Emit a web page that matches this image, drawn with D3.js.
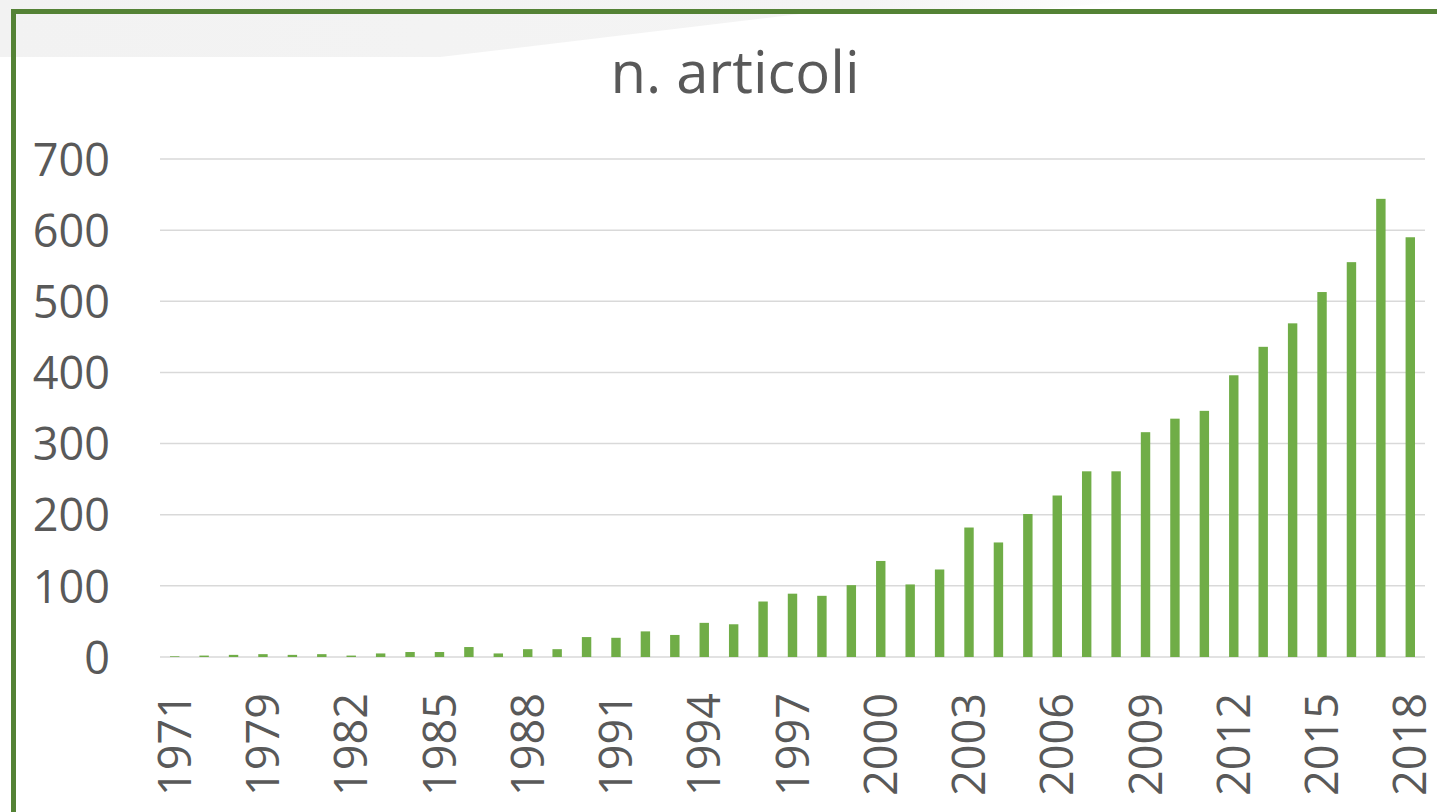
<!DOCTYPE html>
<html>
<head>
<meta charset="utf-8">
<script src="https://cdn.jsdelivr.net/npm/d3@7"></script>
<style>
  html, body { margin: 0; padding: 0; background: #ffffff; }
  svg { display: block; }
</style>
</head>
<body>
<svg id="chart" width="1437" height="812"></svg>
<script>
const title = "n. articoli";
const years = ["1971", "1977", "1978",
  "1979", "1980", "1981", "1982", "1983", "1984", "1985", "1986", "1987", "1988", "1989",
  "1990", "1991", "1992", "1993", "1994", "1995", "1996", "1997", "1998", "1999",
  "2000", "2001", "2002", "2003", "2004", "2005", "2006", "2007", "2008", "2009",
  "2010", "2011", "2012", "2013", "2014", "2015", "2016", "2017", "2018"];
const articles = [1, 2, 3,
  4, 3, 4, 2, 5, 7, 7, 14, 5, 11, 11,
  28, 27, 36, 31, 48, 46, 78, 89, 86, 101,
  135, 102, 123, 182, 161, 201, 227, 261, 261, 316,
  335, 346, 396, 436, 469, 513, 555, 644, 590];
const yTicks = [0, 100, 200, 300, 400, 500, 600, 700];
const xLabelEvery = 3;

const svg = d3.select("#chart");
const font = "'Open Sans', 'Liberation Sans', sans-serif";
const textColor = "#595959";

// background decoration (grey band at top-left)
const defs = svg.append("defs");
const grad = defs.append("linearGradient").attr("id", "fade")
  .attr("x1", "0").attr("x2", "1").attr("y1", "0").attr("y2", "0");
grad.append("stop").attr("offset", "0").attr("stop-color", "#f2f2f2");
grad.append("stop").attr("offset", "0.75").attr("stop-color", "#f4f4f4");
grad.append("stop").attr("offset", "1").attr("stop-color", "#ffffff");
svg.append("path")
  .attr("d", "M0,0 L1150,0 L1000,12 L800,14 L440,57 L0,57 Z")
  .attr("fill", "url(#fade)");

const x = d3.scaleBand()
  .domain(years)
  .range([160, 1425])
  .paddingInner(0.68)
  .paddingOuter(0.34);

const y = d3.scaleLinear().domain([0, 700]).range([657, 159]);

// gridlines
svg.append("g")
  .selectAll("line")
  .data(yTicks)
  .join("line")
  .attr("x1", 160).attr("x2", 1425)
  .attr("y1", d => y(d)).attr("y2", d => y(d))
  .attr("stroke", "#d9d9d9")
  .attr("stroke-width", 1.5);

// y axis labels
const yAxis = d3.axisLeft(y).tickValues(yTicks).tickSize(0).tickPadding(0);
const gy = svg.append("g").attr("transform", "translate(110,0)").call(yAxis);
gy.select(".domain").remove();
gy.selectAll("text")
  .attr("font-family", font)
  .attr("font-size", 45)
  .attr("fill", textColor)
  .attr("dy", "0.36em");

// bars
svg.append("g")
  .selectAll("rect")
  .data(years.map((yr, i) => ({ yr, v: articles[i] })))
  .join("rect")
  .attr("x", d => x(d.yr))
  .attr("width", x.bandwidth())
  .attr("y", d => y(d.v))
  .attr("height", d => y(0) - y(d.v))
  .attr("fill", "#70ad47");

// x axis labels (every 3rd category)
const xAxis = d3.axisBottom(x)
  .tickValues(years.filter((d, i) => i % xLabelEvery === 0))
  .tickSize(0).tickPadding(0);
const gx = svg.append("g").attr("transform", "translate(0,693)").call(xAxis);
gx.select(".domain").remove();
gx.selectAll("text")
  .attr("font-family", font)
  .attr("font-size", 45)
  .attr("fill", textColor)
  .attr("text-anchor", "end")
  .attr("transform", "rotate(-90)")
  .attr("x", 0)
  .attr("y", 0)
  .attr("dx", 0)
  .attr("dy", "0.36em");

// title
svg.append("text")
  .attr("x", 735)
  .attr("y", 93)
  .attr("text-anchor", "middle")
  .attr("font-family", font)
  .attr("font-size", 58)
  .attr("fill", textColor)
  .text(title);

// green frame (top and left)
svg.append("line")
  .attr("x1", 11).attr("x2", 1437).attr("y1", 11.5).attr("y2", 11.5)
  .attr("stroke", "#548235").attr("stroke-width", 5);
svg.append("line")
  .attr("x1", 13.5).attr("x2", 13.5).attr("y1", 9).attr("y2", 812)
  .attr("stroke", "#548235").attr("stroke-width", 5);
</script>
</body>
</html>
